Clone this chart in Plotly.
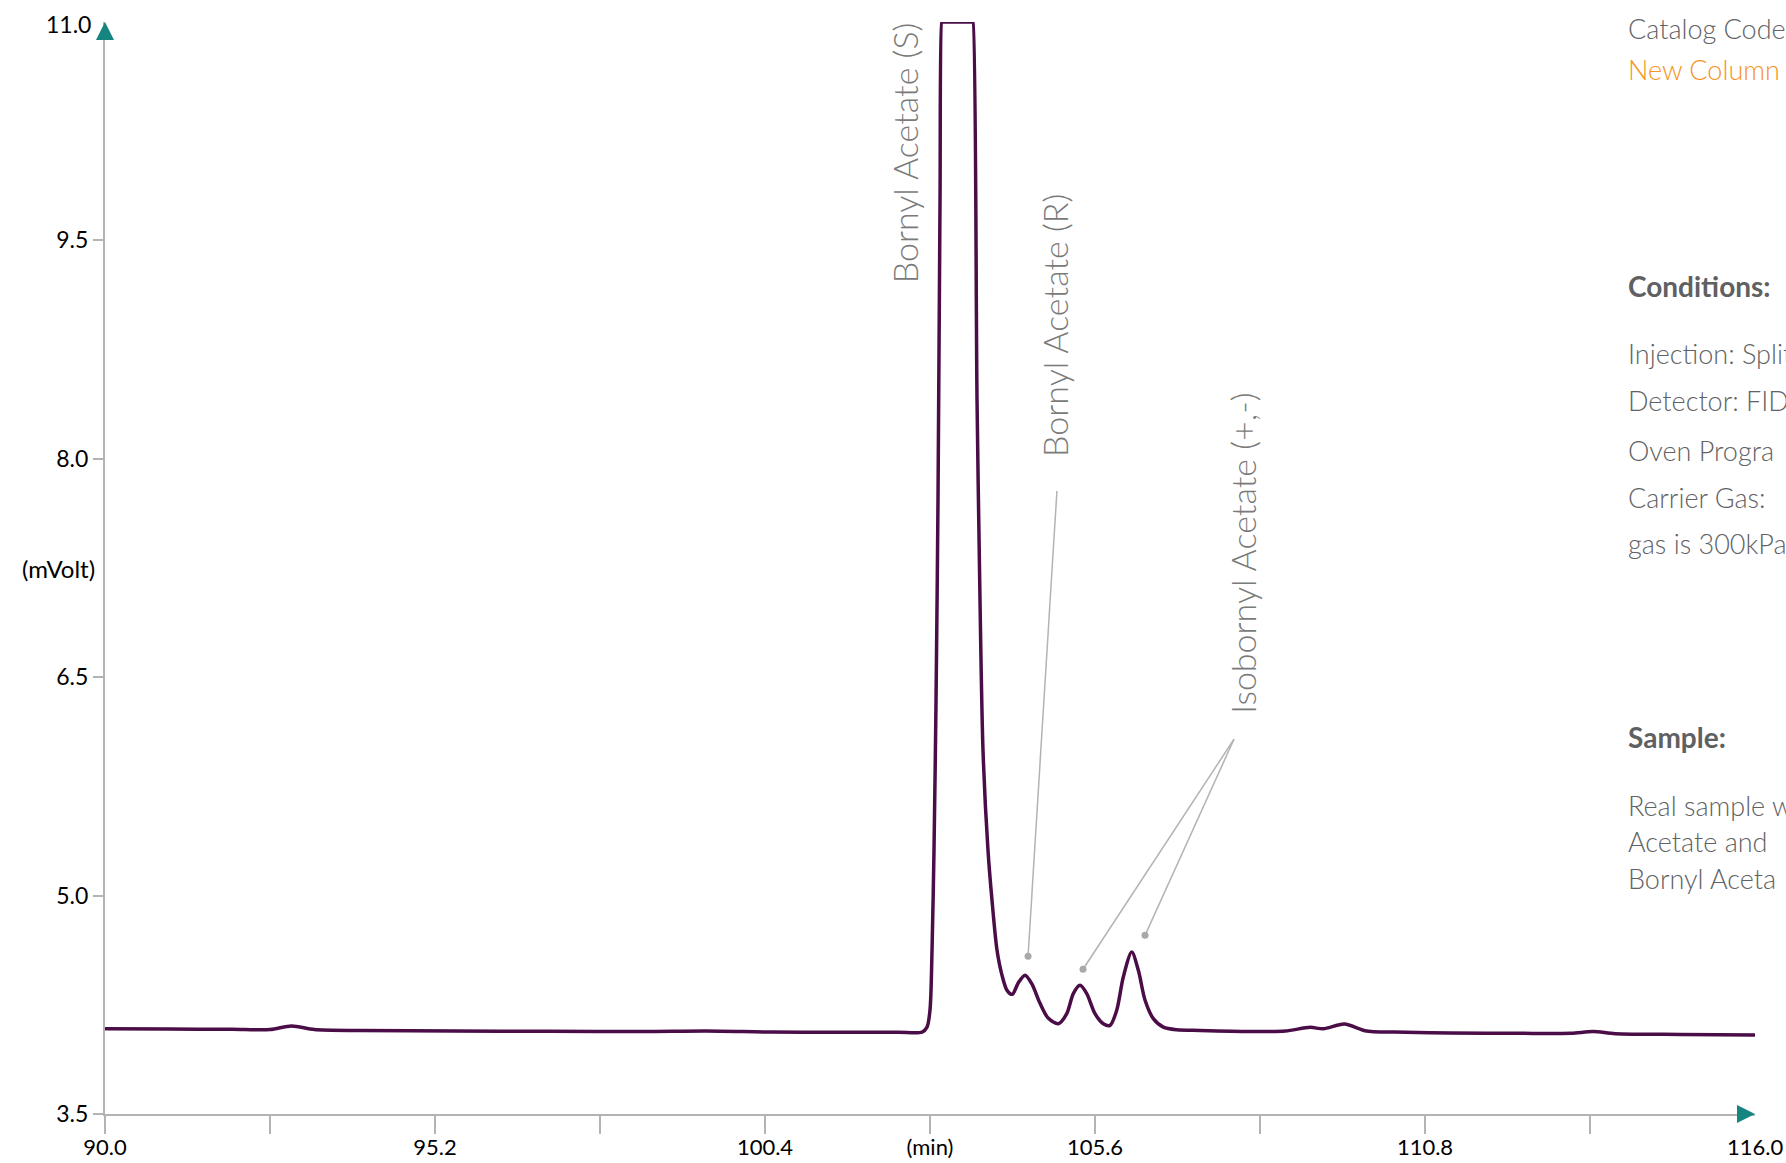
import plotly.graph_objects as go

# ---------------- data ----------------
time_min = [
    90.0, 91.0, 92.0, 92.6, 92.94, 93.3, 94.0, 95.5, 97.0, 98.5, 99.47, 100.5, 101.5, 102.5,
    102.874, 102.953, 103.0, 103.032, 103.063, 103.095, 103.126, 103.158, 103.185, 103.19,
    103.673, 103.678, 103.741, 103.788, 103.835, 103.914, 103.977, 104.056, 104.135, 104.214, 104.297,
    104.39, 104.497, 104.603, 104.734, 104.865, 105.022, 105.155, 105.258,
    105.364, 105.47,
    105.6, 105.731, 105.837, 105.942, 106.046, 106.179, 106.283, 106.389,
    106.519, 106.677,
    106.888, 107.255, 108.043, 108.6, 108.99, 109.198, 109.529, 109.882, 110.5, 111.196,
    112.3, 113.1, 113.448, 113.8, 114.82, 116.0,
]
signal_mv = [
    4.085, 4.083, 4.082, 4.080, 4.105, 4.080, 4.073, 4.070, 4.068, 4.066, 4.070, 4.063, 4.062, 4.062,
    4.063, 4.097, 4.214, 4.624, 5.311, 6.342, 7.717, 9.779, 11.0, 11.0,
    11.0, 11.0, 8.404, 7.029, 6.000, 5.311, 4.968, 4.624, 4.452, 4.349, 4.322,
    4.400, 4.453, 4.395, 4.260, 4.157, 4.120, 4.189, 4.327,
    4.384, 4.327,
    4.189, 4.120, 4.109, 4.212, 4.441, 4.612, 4.487, 4.281,
    4.155, 4.097,
    4.079, 4.074, 4.067, 4.070, 4.095, 4.085, 4.118, 4.070, 4.062, 4.056,
    4.054, 4.055, 4.066, 4.052, 4.046, 4.042,
]

x_tick_vals = [90.0, 92.6, 95.2, 97.8, 100.4, 103.0, 105.6, 108.2, 110.8, 113.4]
x_tick_text = ["90.0", "", "95.2", "", "100.4", "(min)", "105.6", "", "110.8", ""]
y_tick_vals = [3.5, 5.0, 6.5, 8.0, 9.5]
y_tick_text = ["3.5", "5.0", "6.5", "8.0", "9.5"]

# peak labels: text, label centre (x, y), leader start, leader end
peak_labels = ["Bornyl Acetate (S)", "Bornyl Acetate (R)", "Isobornyl Acetate (+,-)"]
label_x = [102.59, 104.97, 107.92]
label_y = [10.105, 8.913, 7.349]
leader_from_x = [105.00, 107.79, 107.79]
leader_from_y = [7.779, 6.074, 6.074]
leader_to_x = [104.545, 105.411, 106.388]
leader_to_y = [4.583, 4.494, 4.727]

side_text = [
    ("Catalog Code", "#616264", False, 28.5),
    ("New Column", "#f7931e", False, 69.5),
    ("Conditions:", "#5f6062", True, 286),
    ("Injection: Split", "#616264", False, 353),
    ("Detector: FID", "#616264", False, 400),
    ("Oven Progra", "#616264", False, 450),
    ("Carrier Gas: ", "#616264", False, 497),
    ("gas is 300kPa", "#616264", False, 543),
    ("Sample:", "#5f6062", True, 737),
    ("Real sample w", "#616264", False, 805),
    ("Acetate and", "#616264", False, 841),
    ("Bornyl Aceta", "#616264", False, 878),
]

# ---------------- layout geometry ----------------
W, H = 1786, 1163
ML, MR, MT, MB = 105, 31, 22, 49
PW, PH = W - ML - MR, H - MT - MB
FONT = "Lato, 'Open Sans', sans-serif"
AXIS_GRAY = "#b3b3b3"
TEAL = "#14857f"
TRACE = "#4a0d47"


def px_to_paper_x(px):
    return (px - ML) / PW


def px_to_paper_y(py):
    return (H - MB - py) / PH


fig = go.Figure()

fig.add_trace(go.Scatter(
    x=time_min, y=signal_mv, mode="lines",
    line=dict(color=TRACE, width=3.5, shape="spline", smoothing=0.8),
    hoverinfo="skip", showlegend=False,
))

fig.add_trace(go.Scatter(
    x=leader_to_x, y=leader_to_y, mode="markers",
    marker=dict(color="#a9a9a9", size=7),
    hoverinfo="skip", showlegend=False, cliponaxis=False,
))

shapes = []
for fx, fy, tx, ty in zip(leader_from_x, leader_from_y, leader_to_x, leader_to_y):
    shapes.append(dict(type="line", xref="x", yref="y", x0=fx, y0=fy, x1=tx, y1=ty,
                       line=dict(color="#b3b3b3", width=1.5), layer="below"))

hw_x = 9 / PW
hh_y = 18 / PH
shapes.append(dict(type="path", xref="paper", yref="paper",
                   path=f"M {-hw_x},{1 - hh_y} L {hw_x},{1 - hh_y} L 0,1 Z",
                   fillcolor=TEAL, line=dict(width=0)))
aw = 18 / PW
ah = 9 / PH
shapes.append(dict(type="path", xref="paper", yref="paper",
                   path=f"M {1 - aw},{-ah} L {1 - aw},{ah} L 1,0 Z",
                   fillcolor=TEAL, line=dict(width=0)))

annotations = []
for txt, lx, ly in zip(peak_labels, label_x, label_y):
    annotations.append(dict(
        text=txt, x=lx, y=ly, xref="x", yref="y", showarrow=False,
        textangle=-90, xanchor="center", yanchor="middle",
        font=dict(family=FONT, size=34, color="#7a7a7a", weight=300),
    ))

for txt, col, bold, py in side_text:
    annotations.append(dict(
        text=txt,
        x=px_to_paper_x(1626), y=px_to_paper_y(py), xref="paper", yref="paper",
        xanchor="left", yanchor="middle", showarrow=False,
        font=dict(family=FONT, size=28 if bold else 27, color=col,
                  weight=700 if bold else 300),
    ))

annotations.append(dict(text="11.0", x=px_to_paper_x(93), y=11.0, xref="paper", yref="y",
                        xanchor="right", yanchor="middle", yshift=-2, showarrow=False,
                        font=dict(family=FONT, size=23, color="black")))
annotations.append(dict(text="116.0", x=116.0, y=px_to_paper_y(1147), xref="x", yref="paper",
                        xanchor="center", yanchor="middle", showarrow=False,
                        font=dict(family=FONT, size=22, color="black")))
annotations.append(dict(text="(mVolt)", x=px_to_paper_x(97), y=7.25, xref="paper", yref="y",
                        xanchor="right", yanchor="middle", showarrow=False,
                        font=dict(family=FONT, size=24, color="black")))

fig.update_layout(
    width=W, height=H, autosize=False,
    margin=dict(l=ML, r=MR, t=MT, b=MB, pad=0),
    paper_bgcolor="white", plot_bgcolor="white",
    shapes=shapes, annotations=annotations,
    font=dict(family=FONT, size=23, color="black"),
    xaxis=dict(
        range=[90, 116], showgrid=False, zeroline=False, automargin=False,
        showline=True, linecolor=AXIS_GRAY, linewidth=2,
        ticks="outside", ticklen=18, tickwidth=1.5, tickcolor=AXIS_GRAY,
        tickmode="array", tickvals=x_tick_vals, ticktext=x_tick_text,
        tickfont=dict(family=FONT, size=22, color="black"),
        ticklabelstandoff=-5,
    ),
    yaxis=dict(
        range=[3.5, 11.0], showgrid=False, zeroline=False, automargin=False,
        showline=True, linecolor=AXIS_GRAY, linewidth=2,
        ticks="outside", ticklen=10, tickwidth=1.5, tickcolor=AXIS_GRAY,
        tickmode="array", tickvals=y_tick_vals, ticktext=y_tick_text,
        tickfont=dict(family=FONT, size=23, color="black"),
    ),
)

fig.write_html(
    "out.html",
    config={"displayModeBar": False},
    post_script="document.body.style.margin='0';document.body.style.overflow='hidden';",
)
